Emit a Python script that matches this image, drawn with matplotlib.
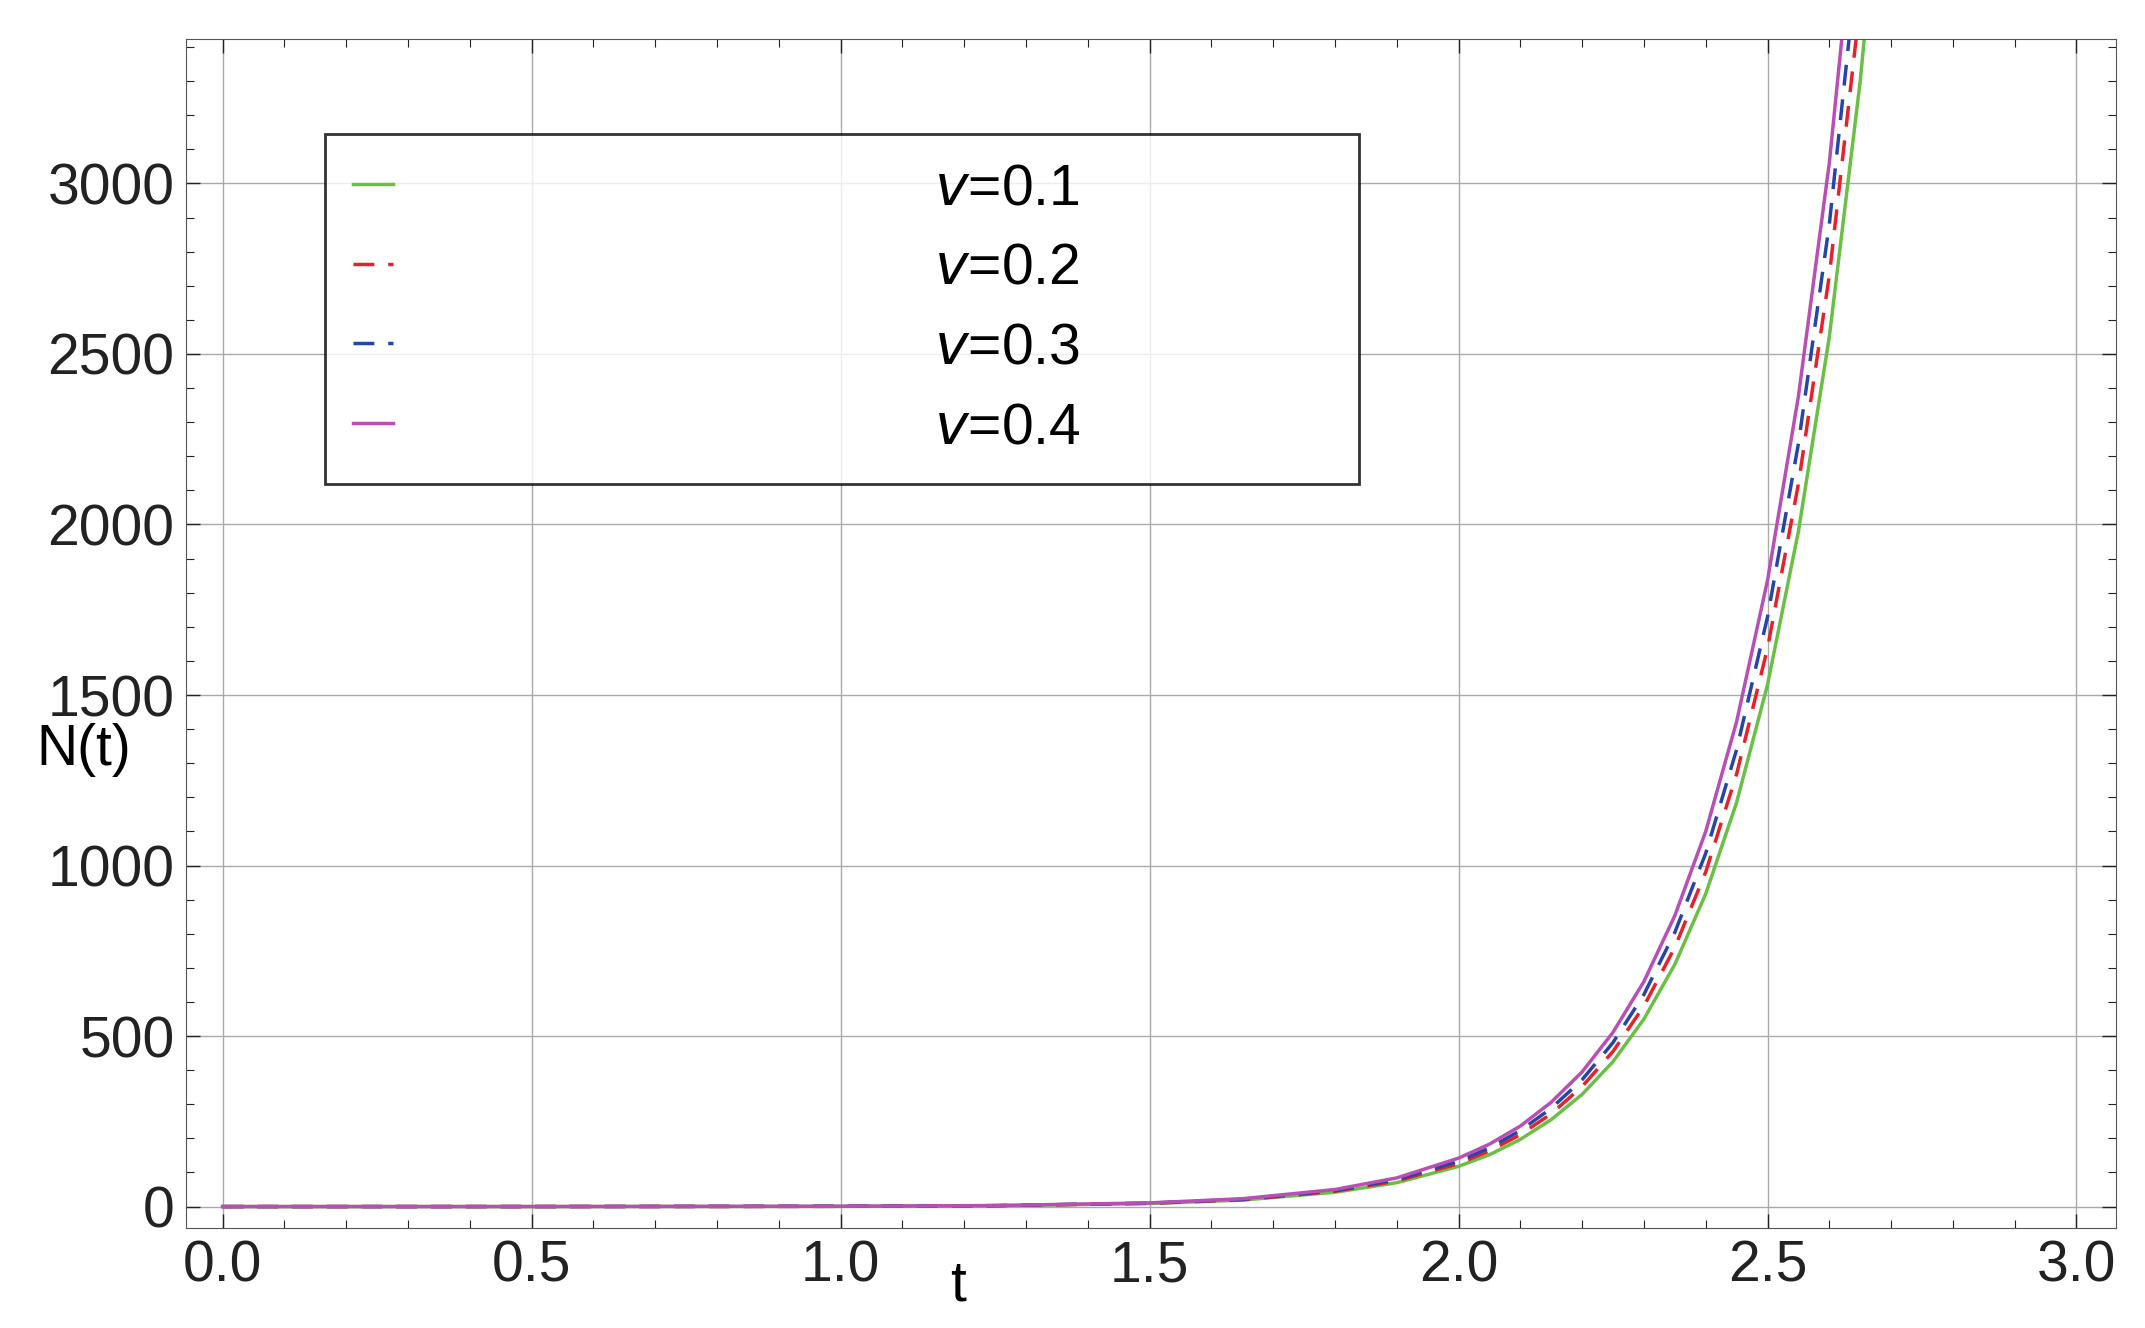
import matplotlib
matplotlib.use("Agg")
import matplotlib.pyplot as plt
from matplotlib.ticker import MultipleLocator, FormatStrFormatter

plt.rcParams['font.family'] = ['Liberation Sans', 'DejaVu Sans']

t = [0.0, 0.5, 1.0, 1.25, 1.5, 1.65, 1.8, 1.9, 2.0, 2.05, 2.1, 2.15, 2.2, 2.25, 2.3, 2.35, 2.4, 2.45, 2.5, 2.55, 2.6, 2.65, 2.7]
n_v1 = [0.0, 0.05, 0.7, 2.5, 9, 19, 42, 70, 118, 152, 197, 255, 329, 425, 550, 710, 917, 1185, 1530, 1980, 2550, 3300, 4250]
n_v2 = [0.0, 0.05, 0.75, 2.7, 9.6, 20, 45, 75, 126, 163, 211, 272, 352, 455, 588, 760, 981, 1268, 1637, 2119, 2730, 3530, 4550]
n_v3 = [0.0, 0.06, 0.8, 2.8, 10.2, 21.5, 47, 79, 133, 172, 223, 288, 372, 481, 622, 804, 1036, 1340, 1729, 2237, 2880, 3730, 4800]
n_v4 = [0.0, 0.06, 0.85, 3.0, 10.8, 23, 50, 84, 142, 183, 236, 306, 395, 511, 660, 853, 1100, 1422, 1836, 2376, 3060, 3960, 5100]
labels = ["0.1", "0.2", "0.3", "0.4"]

fig = plt.figure(figsize=(21.45, 13.28), dpi=100)
ax = fig.add_axes([0.0865, 0.075, 0.9, 0.896])
ax.plot(t, n_v1, color="#6abf45", lw=2.5, label=r"$v$=" + labels[0])
ax.plot(t, n_v2, color="#e8202a", lw=2.5, dashes=(6, 4), label=r"$v$=" + labels[1])
ax.plot(t, n_v3, color="#2645a8", lw=2.5, dashes=(6, 4), label=r"$v$=" + labels[2])
ax.plot(t, n_v4, color="#b94fb5", lw=2.5, label=r"$v$=" + labels[3])

ax.set_xlim(-0.06, 3.064)
ax.set_ylim(-64, 3425)
ax.xaxis.set_major_locator(MultipleLocator(0.5))
ax.xaxis.set_minor_locator(MultipleLocator(0.1))
ax.yaxis.set_major_locator(MultipleLocator(500))
ax.yaxis.set_minor_locator(MultipleLocator(100))
ax.xaxis.set_major_formatter(FormatStrFormatter('%.1f'))
ax.tick_params(which='both', direction='in', top=True, right=True, labelsize=41, colors='#222222')
ax.tick_params(which='major', length=10, width=1, pad=8)
ax.tick_params(which='minor', length=6, width=0.8)
ax.grid(True, which='major', color='#aaaaaa', lw=1)
for s in ax.spines.values():
    s.set_color('#555555')

ax.text(-0.225, 1340, "N(t)", fontsize=41, ha='center', va='center', clip_on=False)
ax.text(1.19, -230, "t", fontsize=41, ha='center', va='center', clip_on=False)

leg = ax.legend(loc='upper left', bbox_to_anchor=(0.072, 0.572, 0.536, 0.348), mode='expand',
                fontsize=41, frameon=True, fancybox=False, handlelength=0.7,
                labelspacing=0.45, borderpad=0.5, handletextpad=9.5, borderaxespad=0)
leg.get_frame().set_edgecolor('black')
leg.get_frame().set_linewidth(2)
fig.savefig("out.png", dpi=100)
